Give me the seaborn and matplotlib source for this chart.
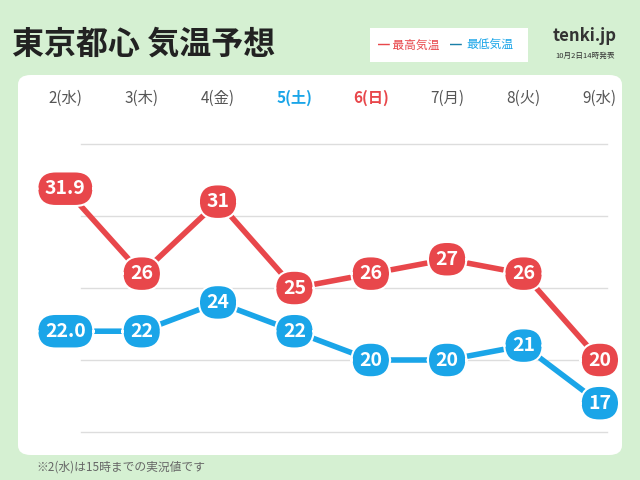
import matplotlib
matplotlib.use("Agg")
import matplotlib.pyplot as plt
from matplotlib.patches import FancyBboxPatch
import seaborn as sns
import pandas as pd

plt.rcParams["font.family"] = "Noto Sans CJK JP"

days = ["2(水)", "3(木)", "4(金)", "5(土)", "6(日)", "7(月)", "8(火)", "9(水)"]
day_colors = ["#555555", "#555555", "#555555", "#1aa5e8", "#e8474b", "#555555", "#555555", "#555555"]
high = [31.9, 26, 31, 25, 26, 27, 26, 20]
low = [22.0, 22, 24, 22, 20, 20, 21, 17]
high_labels = ["31.9", "26", "31", "25", "26", "27", "26", "20"]
low_labels = ["22.0", "22", "24", "22", "20", "20", "21", "17"]

RED = "#e8474b"
BLUE = "#1aa5e8"
BG = "#d5f0d2"

df = pd.DataFrame({"x": list(range(len(days)))*2,
                   "temp": high + low,
                   "kind": ["high"]*len(days) + ["low"]*len(days)})

fig = plt.figure(figsize=(6.4, 4.8), dpi=100)
fig.patch.set_facecolor(BG)
panel = FancyBboxPatch((18/640, 25/480), 604/640, 380/480,
                       boxstyle="round,pad=0,rounding_size=0.02",
                       transform=fig.transFigure, facecolor="white", edgecolor="none",
                       zorder=-10)
fig.patches.append(panel)

ax = fig.add_axes([18/640, 25/480, 604/640, 380/480])
ax.set_facecolor("none")
ax.set_xlim(-0.62, 7.29)
ax.set_ylim(13.4, 39.8)
for g in [15, 20, 25, 30, 35]:
    ax.plot([0.2, 7.1], [g, g], color="#dddddd", lw=1, zorder=0)

sns.lineplot(data=df, x="x", y="temp", hue="kind", palette={"high": RED, "low": BLUE},
             lw=4, legend=False, ax=ax, zorder=2)

box = dict(boxstyle="round,pad=0.4,rounding_size=0.95", ec="white", lw=1.5)
for i in range(len(days)):
    ax.text(i, high[i], high_labels[i], ha="center", va="center", color="white",
            fontsize=14, fontweight="bold", zorder=3, bbox=dict(box, fc=RED))
    ax.text(i, low[i], low_labels[i], ha="center", va="center", color="white",
            fontsize=14, fontweight="bold", zorder=3, bbox=dict(box, fc=BLUE))
    ax.text(i, 38.2, days[i], ha="center", va="center", color=day_colors[i],
            fontsize=11, fontweight="bold" if day_colors[i] != "#555555" else "normal")
ax.axis("off")

fig.text(12/640, 1-45/480, "東京都心 気温予想", fontsize=23, fontweight="bold",
         color="#222222", va="center")
leg = FancyBboxPatch((370/640, 1-62/480), 158/640, 34/480, boxstyle="square,pad=0",
                     transform=fig.transFigure, facecolor="white", edgecolor="none", zorder=-5)
fig.patches.append(leg)
fig.text(378/640, 1-45/480, "━ 最高気温", color=RED, fontsize=8.5, va="center")
fig.text(450/640, 1-45/480, "━", color="#1a7fa8", fontsize=8.5, va="center")
fig.text(466/640, 1-45/480, "最低気温", color=BLUE, fontsize=8.5, va="center")
fig.text(585/640, 1-36/480, "tenki.jp", color="#333333", fontsize=12, fontweight="bold",
         ha="center", va="center")
fig.text(585/640, 1-56/480, "10月2日14時発表", color="#333333", fontsize=5.5,
         ha="center", va="center")
fig.text(36/640, 1-467/480, "※2(水)は15時までの実況値です", color="#666666", fontsize=8.5, va="center")

fig.savefig("out.png", dpi=100, facecolor=BG)
